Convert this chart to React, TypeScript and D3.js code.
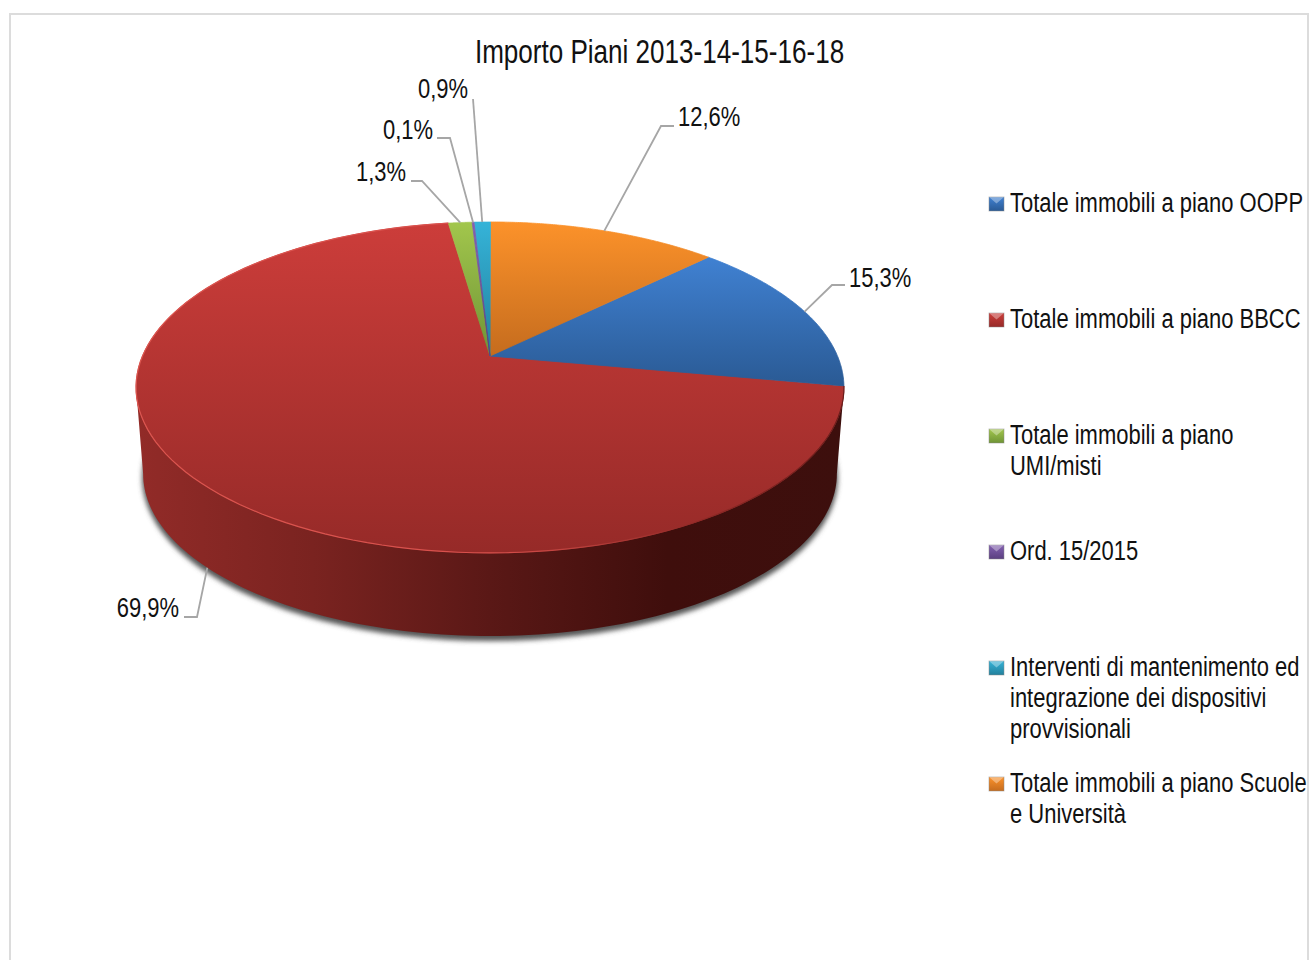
import React from "react";
import * as d3 from "d3";

const title = "Importo Piani 2013-14-15-16-18";

const categories = [
    ["Totale immobili a piano OOPP"],
    ["Totale immobili a piano BBCC"],
    ["Totale immobili a piano", "UMI/misti"],
    ["Ord. 15/2015"],
    ["Interventi di mantenimento ed", "integrazione dei dispositivi", "provvisionali"],
    ["Totale immobili a piano Scuole", "e Università"],
];
const values = [15.3, 69.9, 1.3, 0.1, 0.9, 12.6];

// top of gradient, bottom of gradient, one per slice
const topColors = ["#4081d2", "#cc3d3a", "#a2c64c", "#8360b0", "#35b3d8", "#fc922a"];
const bottomColors = ["#2a5a94", "#962a28", "#6f9436", "#5a3f80", "#23809c", "#c56c1e"];

const sideStops = [
    [0, "#922b28"],
    [0.25, "#7a2320"],
    [0.5, "#5a1816"],
    [0.75, "#3f0e0c"],
    [1, "#3d0f0d"],
];

const font = "'Liberation Sans', Arial, sans-serif";
const fontSize = 28;
const titleSize = 33.2;
const narrow = 0.785; // the original font is condensed

// perspective disc, fitted on the picture
const cx = 490;
const cy = 356;
const k = -0.19;
const a = 159.5;
const c = 347.5;
const depth = 87;
const bottomScale = 0.98;
const sliceStart = (45.4 * Math.PI) / 180;

const project = (angle: number, bottom = false): [number, number] => {
    const u = Math.sin(angle);
    const v = -Math.cos(angle);
    const s = bottom ? bottomScale : 1;
    const w = 1 + k * v;
    return [cx + (s * c * u) / w, cy + (bottom ? depth : 0) + (s * a * v) / w];
};

const pie = d3
    .pie<number>()
    .sort(null)
    .startAngle(sliceStart)
    .endAngle(sliceStart + 2 * Math.PI);
const slices = pie(values);

const path = d3.line();
const percent = d3.formatLocale({
    decimal: ",",
    thousands: ".",
    grouping: [3],
    currency: ["€", ""],
}).format(".1f");

const sweep = (from: number, to: number, bottom = false) =>
    d3.range(0, 121).map((i) => project(from + ((to - from) * i) / 120, bottom));

const silhouette = Math.acos(k);

const topPath = (s: d3.PieArcDatum<number>) =>
    path([[cx, cy], ...sweep(s.startAngle, s.endAngle)]) + "Z";

const sidePath = (s: d3.PieArcDatum<number>) => {
    const from = Math.max(s.startAngle, silhouette);
    const to = Math.min(s.endAngle, 2 * Math.PI - silhouette);
    if (to <= from) return null;
    return path([...sweep(from, to), ...sweep(from, to, true).reverse()]) + "Z";
};

// bend and end of each leader, label anchor, in slice order
const leaders: { bend: [number, number][]; label: [number, number]; anchor: "start" | "end"; rim?: boolean }[] = [
    { bend: [[832, 285], [845, 285]], label: [849, 277], anchor: "start" },
    { bend: [[197, 617], [184, 617]], label: [179, 607], anchor: "end", rim: true },
    { bend: [[422, 181], [411, 181]], label: [406, 171], anchor: "end" },
    { bend: [[450, 138], [437, 138]], label: [433, 129], anchor: "end" },
    { bend: [[473, 99]], label: [468, 88], anchor: "end" },
    { bend: [[661, 126], [674, 126]], label: [678, 116], anchor: "start" },
];

const legendX = 989;
const legendRows = [203, 319, 435, 551, 667, 783];
const lineStep = 30.8;

const Narrow: React.FC<{
    x: number;
    y: number;
    size?: number;
    anchor?: "start" | "middle" | "end";
    children: React.ReactNode;
}> = ({ x, y, size = fontSize, anchor = "start", children }) => (
    <text
        transform={`translate(${x},${y}) scale(${narrow},1)`}
        fontSize={size}
        textAnchor={anchor}
        fill="#111"
    >
        {children}
    </text>
);

const App: React.FC = () => {
    return (
        <svg
            width={1309}
            height={960}
            style={{ position: "absolute", left: 0, top: 0, background: "#fff" }}
            fontFamily={font}
        >
            <defs>
                {slices.map((s, i) => (
                    <linearGradient id={`top-${i}`} key={i} x1="0" y1="0" x2="0" y2="1">
                        <stop offset="0%" stopColor={topColors[i]} />
                        <stop offset="100%" stopColor={bottomColors[i]} />
                    </linearGradient>
                ))}
                <linearGradient id="side" gradientUnits="userSpaceOnUse" x1={136} y1={0} x2={844} y2={0}>
                    {sideStops.map(([o, col]) => (
                        <stop key={o as number} offset={o as number} stopColor={col as string} />
                    ))}
                </linearGradient>
                <linearGradient id="rim" gradientUnits="userSpaceOnUse" x1={136} y1={0} x2={844} y2={0}>
                    <stop offset="0%" stopColor="#dc554f" />
                    <stop offset="50%" stopColor="#d8504c" />
                    <stop offset="80%" stopColor="#8f2825" />
                    <stop offset="100%" stopColor="#6a1c1a" />
                </linearGradient>
                <filter id="blur" x="-10%" y="-10%" width="120%" height="120%">
                    <feGaussianBlur stdDeviation="2.5" />
                </filter>
            </defs>

            {/* frame */}
            <path d="M10,960V14H1308V960" fill="none" stroke="#dcdcdc" strokeWidth={2} />

            <Narrow x={659.5} y={63} size={titleSize} anchor="middle">
                {title}
            </Narrow>

            {/* shadow under the disc */}
            <path
                d={path(sweep(0, 2 * Math.PI, true)) + "Z"}
                transform="translate(0,4)"
                fill="#555"
                stroke="#555"
                strokeWidth={2}
                filter="url(#blur)"
            />

            {/* side wall */}
            {slices.map((s, i) => {
                const d = sidePath(s);
                return d ? <path key={i} d={d} fill="url(#side)" /> : null;
            })}

            {/* top face, smallest slices last so they stay visible */}
            {[...slices]
                .sort((p, q) => q.value - p.value)
                .map((s) => (
                    <path
                        key={s.index}
                        d={topPath(s)}
                        fill={`url(#top-${s.index})`}
                        stroke={`url(#top-${s.index})`}
                        strokeWidth={0.8}
                    />
                ))}

            {/* light rim on the front edge */}
            <path
                d={path(sweep(slices[1].startAngle, slices[1].endAngle)) ?? ""}
                fill="none"
                stroke="url(#rim)"
                strokeWidth={1.2}
            />

            {/* leaders and percent labels */}
            {slices.map((s, i) => {
                const l = leaders[i];
                const start = project((s.startAngle + s.endAngle) / 2, l.rim);
                return (
                    <g key={i}>
                        <path
                            d={path([start, ...l.bend]) ?? ""}
                            fill="none"
                            stroke="#a6a6a6"
                            strokeWidth={1.8}
                        />
                        <Narrow x={l.label[0]} y={l.label[1] + 10} anchor={l.anchor}>
                            {percent(s.data)}%
                        </Narrow>
                    </g>
                );
            })}

            {/* legend */}
            {categories.map((lines, i) => {
                const y = legendRows[i];
                return (
                    <g key={i}>
                        <rect
                            x={legendX}
                            y={y - 6}
                            width={15}
                            height={14}
                            fill={`url(#top-${i})`}
                            stroke="#8c8c8c"
                            strokeOpacity={0.6}
                            strokeWidth={0.8}
                        />
                        <path d={`M${legendX},${y - 6}h15l-7.5,6.5Z`} fill="#fff" fillOpacity={0.35} />
                        {lines.map((t, j) => (
                            <Narrow key={j} x={1010} y={y + 9 + j * lineStep}>
                                {t}
                            </Narrow>
                        ))}
                    </g>
                );
            })}
        </svg>
    );
};

export default App;
